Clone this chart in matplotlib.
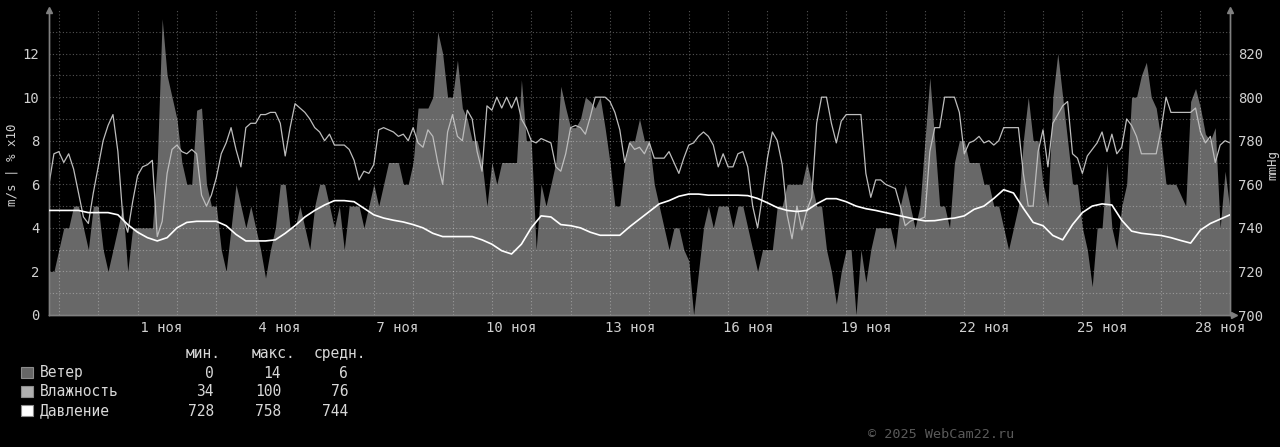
import numpy as np
import pandas as pd
import matplotlib
matplotlib.use("Agg")
import matplotlib.pyplot as plt
from matplotlib.patches import Rectangle

plt.rcParams['font.family'] = ['DejaVu Sans Mono']

# wind speed, m/s, every 3 hours starting 29 Oct 18:00
wind = [
    2, 2, 3, 4, 4, 5, 5, 4, 3, 5,
    5, 3, 2, 3, 4, 5, 2, 4, 4, 4,
    4, 4, 7, 13.6, 11, 10, 9, 7, 6, 6,
    9.4, 9.5, 6, 5, 5, 3, 2, 4, 6, 5,
    4, 5, 4, 3, 1.7, 3, 4, 6, 6, 4,
    4, 5, 4, 3, 5, 6, 6, 5, 4, 5,
    3, 5, 5, 5, 4, 5, 6, 5, 6, 7,
    7, 7, 6, 6, 7, 9.5, 9.5, 9.5, 10, 13,
    12, 10, 10, 11.7, 9.5, 9, 8, 8, 7, 5,
    7, 6, 7, 7, 7, 7, 10.8, 8, 8, 3,
    6, 5, 6, 7, 10.5, 9.5, 8.6, 8.6, 9, 10,
    9.8, 9.5, 10, 8.6, 7, 5, 5, 7, 8, 8,
    9, 8, 8, 6, 5, 4, 3, 4, 4, 3,
    2.5, 0, 2, 4, 5, 4, 5, 5, 5, 4,
    5, 5, 4, 3, 2, 3, 3, 3, 5, 5,
    6, 6, 6, 6, 7, 6, 5, 5, 3, 2,
    0.5, 2, 3, 3, 0, 3, 1.5, 3, 4, 4,
    4, 4, 3, 5, 6, 5, 4, 5, 8, 10.9,
    8, 5, 5, 4, 7, 8, 8, 7, 7, 7,
    6, 6, 5, 5, 4, 3, 4, 5, 8, 10,
    8, 8, 6, 5, 10, 12, 10, 8, 6, 6,
    4, 3, 1.3, 4, 4, 7, 4, 3, 5, 6,
    10, 10, 11, 11.6, 10, 9.5, 8, 6, 6, 6,
    5.5, 5, 9.8, 10.4, 9.5, 8.3, 8, 8.6, 4, 6.6,
    4.8,
]

# relative humidity, %, same 3-hour steps
humidity = [
    60, 74, 75, 70, 74, 67, 56, 45, 42, 56,
    68, 80, 87, 92, 75, 45, 38, 52, 64, 68,
    69, 71, 36, 43, 65, 76, 78, 75, 74, 76,
    74, 55, 50, 55, 63, 74, 79, 86, 76, 68,
    86, 88, 88, 92, 92, 93, 93, 88, 73, 86,
    97, 95, 93, 90, 86, 84, 80, 83, 78, 78,
    78, 76, 71, 62, 66, 65, 69, 85, 86, 85,
    84, 82, 83, 80, 86, 79, 77, 85, 82, 70,
    60, 84, 92, 82, 80, 94, 90, 75, 66, 96,
    94, 100, 95, 100, 95, 100, 90, 86, 80, 79,
    81, 80, 79, 68, 66, 74, 86, 87, 86, 83,
    91, 100, 100, 100, 98, 93, 85, 70, 79, 76,
    77, 74, 79, 72, 72, 72, 75, 70, 65, 72,
    78, 79, 82, 84, 82, 78, 68, 74, 68, 68,
    74, 75, 68, 50, 40, 55, 72, 84, 80, 69,
    46, 35, 50, 39, 48, 54, 88, 100, 100, 88,
    79, 89, 92, 92, 92, 92, 65, 54, 62, 62,
    60, 59, 58, 50, 41, 43, 44, 44, 45, 75,
    86, 86, 100, 100, 100, 93, 74, 79, 80, 82,
    79, 80, 78, 80, 86, 86, 86, 86, 65, 50,
    50, 75, 85, 68, 88, 92, 96, 98, 74, 72,
    65, 73, 76, 79, 84, 75, 83, 74, 77, 90,
    87, 82, 74, 74, 74, 74, 85, 100, 93, 93,
    93, 93, 93, 95, 84, 79, 82, 70, 78, 80,
    79,
]

# pressure, mmHg, every 6 hours starting 29 Oct 18:00
pressure = [
    748, 748, 748, 748, 747, 747, 747, 746, 741.5, 738,
    735.5, 734, 735.5, 740, 742.5, 743, 743, 743, 741, 737,
    734, 734, 734, 734.5, 737.5, 741, 745, 748, 750.5, 752.5,
    752.5, 752, 749, 746, 744.5, 743.5, 742.7, 741.5, 740, 737.5,
    736, 736, 736, 736, 734.5, 732.5, 729.5, 728, 732.5, 740,
    745.5, 745, 741.5, 741, 740, 738, 736.6, 736.6, 736.6, 740.5,
    744, 747.5, 751, 752.5, 754.5, 755.5, 755.5, 755, 755, 755,
    755, 754.8, 753.5, 751.5, 749.3, 748, 747.5, 748, 751, 753.4,
    753.4, 752, 750, 748.8, 748, 747, 746, 745, 744, 743.2,
    743.3, 744, 744.5, 745.5, 748.5, 750, 753.5, 757.5, 756, 749,
    742.5, 741, 736.5, 734.5, 741.5, 747, 750, 751, 750.5, 743.5,
    738.5, 737.5, 737, 736.5, 735.5, 734.2, 733, 739, 742, 744,
    746,
]

legend_names = ["Ветер", "Влажность", "Давление"]
legend_colors = ["#666666", "#b0b0b0", "#ffffff"]
stat_min = [0, 34, 728]
stat_max = [14, 100, 758]
stat_avg = [6, 76, 744]

t3 = pd.date_range("2025-10-29 18:00", periods=len(wind), freq="3h")
t6 = pd.date_range("2025-10-29 18:00", periods=len(pressure), freq="6h")
hum_scaled = np.array(humidity) / 10.0

W, H = 1280, 447
fig = plt.figure(figsize=(W / 100, H / 100), dpi=100, facecolor="black")
ax = fig.add_axes([49 / W, 1 - 315 / H, 1181 / W, 305 / H])
ax.set_facecolor("black")

ax.fill_between(t3, 0, wind, color="#686868", linewidth=0, zorder=1)
ax.plot(t3, hum_scaled, color="#bdbdbd", lw=0.9, zorder=2)

ax.set_xlim(pd.Timestamp("2025-10-29 18:00"), pd.Timestamp("2025-11-28 18:00"))
ax.set_ylim(0, 14)

# x axis: labels at noon, grid at midnight
label_days = pd.date_range("2025-11-01 12:00", "2025-11-28 12:00", freq="3D")
ax.set_xticks(label_days)
ax.set_xticklabels([f"{d.day:2d} ноя" for d in label_days])
ax.set_xticks(pd.date_range("2025-10-30", "2025-11-28", freq="D"), minor=True)
ax.set_yticks(np.arange(0, 13, 2))
ax.set_yticks(np.arange(1, 14, 2), minor=True)

grid_kw = dict(color="#ffffff", alpha=0.33, linestyle=(0, (1, 2)), linewidth=0.8)
ax.set_axisbelow(False)
ax.xaxis.grid(True, which="minor", **grid_kw)
ax.yaxis.grid(True, which="both", **grid_kw)

ax.tick_params(axis="x", which="both", length=0, pad=4, labelsize=10, colors="#d0d0d0")
ax.tick_params(axis="y", which="both", length=0, pad=7, labelsize=10, colors="#d0d0d0")

ax2 = ax.twinx()
ax2.plot(t6, pressure, color="white", lw=1.2, zorder=3)
ax2.set_ylim(700, 840)
ax2.set_yticks(np.arange(700, 821, 20))
ax2.tick_params(axis="y", length=0, pad=5.5, labelsize=10, colors="#d0d0d0")

for a in (ax, ax2):
    a.spines["top"].set_visible(False)
    for s in ("left", "right", "bottom"):
        a.spines[s].set_color("#808080")
        a.spines[s].set_linewidth(1)

# axis arrows
arrow_kw = dict(color="#808080", markersize=5, clip_on=False, transform=ax.transAxes, zorder=5)
ax.plot([0], [1.0], marker="^", **arrow_kw)
ax.plot([1], [1.0], marker="^", **arrow_kw)
ax.plot([1 + 4 / 1181], [0], marker=">", **arrow_kw)

def px(x, y):
    return x / W, 1 - y / H

fig.text(*px(12, 165), "m/s | % x10", rotation=90, ha="center", va="center",
         fontsize=9, color="#d0d0d0")
fig.text(*px(1273, 165), "mmHg", rotation=90, ha="center", va="center",
         fontsize=9, color="#d0d0d0")

# legend table
txt = dict(fontsize=10.5, color="#d8d8d8", va="baseline")
fig.text(*px(221, 358), "мин.", ha="right", **txt)
fig.text(*px(295, 358), "макс.", ha="right", **txt)
fig.text(*px(366, 358), "средн.", ha="right", **txt)
for i, name in enumerate(legend_names):
    base = 377.5 + 19 * i
    fig.patches.append(Rectangle(px(21, base + 0.5), 11.5 / W, 11.5 / H,
                                 transform=fig.transFigure, facecolor=legend_colors[i],
                                 edgecolor="#8c8c8c", linewidth=0.8))
    fig.text(*px(40, base), name, ha="left", **txt)
    fig.text(*px(214, base), str(stat_min[i]), ha="right", **txt)
    fig.text(*px(281, base), str(stat_max[i]), ha="right", **txt)
    fig.text(*px(348, base), str(stat_avg[i]), ha="right", **txt)

fig.text(*px(868, 438), "© 2025 WebCam22.ru", ha="left", va="baseline",
         fontsize=9.7, color="#5a5a5a")

fig.savefig("out.png", dpi=100, facecolor="black")
